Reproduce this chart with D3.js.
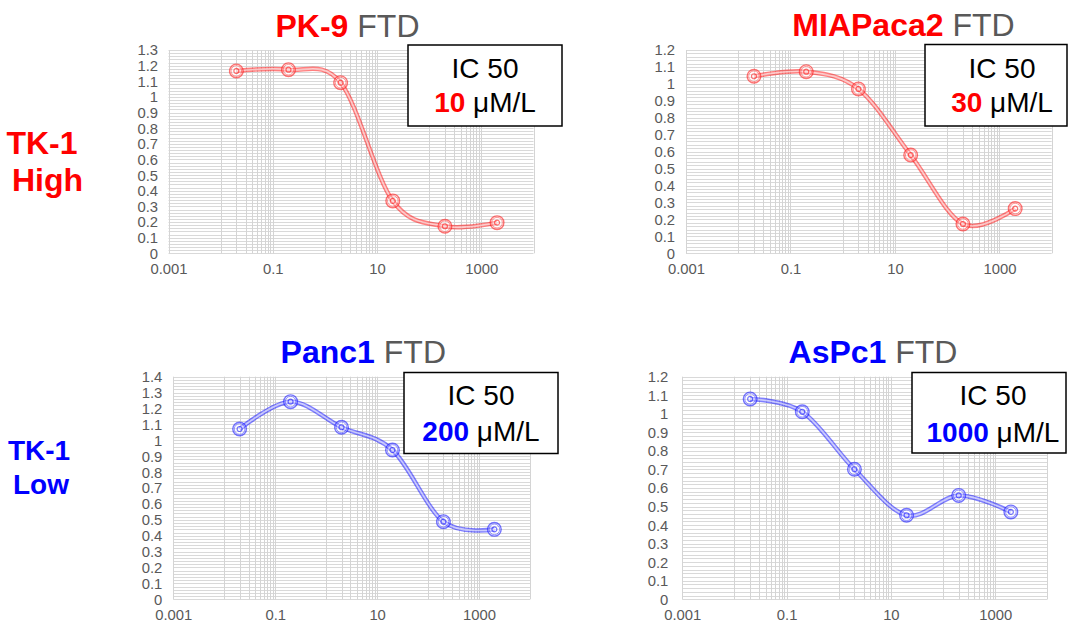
<!DOCTYPE html>
<html>
<head>
<meta charset="utf-8">
<script src="https://cdn.jsdelivr.net/npm/d3@7"></script>
<style>
  html, body { margin: 0; padding: 0; background: #fff; }
  svg { display: block; font-family: "Liberation Sans", Arial, sans-serif; }
</style>
</head>
<body>
<script>
// ---------------- DATA ----------------
const concentrations = [0.02, 0.2, 2, 20, 200, 2000];           // µM/L
const pk9Values      = [1.166, 1.174, 1.091, 0.335, 0.173, 0.196];
const miapaca2Values = [1.045, 1.072, 0.970, 0.580, 0.173, 0.264];
const panc1Values    = [1.071, 1.243, 1.082, 0.939, 0.488, 0.440];
const aspc1Values    = [1.080, 1.011, 0.701, 0.453, 0.560, 0.471];

const cellLines  = ["PK-9", "MIAPaca2", "Panc1", "AsPc1"];
const ic50Values = ["10", "30", "200", "1000"];
const yMaxValues = [1.3, 1.2, 1.4, 1.2];
const xTickValues = [0.001, 0.1, 10, 1000];
const xTickLabels = ["0.001", "0.1", "10", "1000"];
const rowLabelHigh = ["TK-1", "High"];
const rowLabelLow  = ["TK-1", "Low"];

// ---------------- LAYOUT ----------------
const W = 1068, H = 622;
const RED = "#ff0000", BLUE = "#0000ff", GRAY = "#595959";

const panels = [
  { name: cellLines[0], values: pk9Values, ic50: ic50Values[0], ymax: yMaxValues[0], color: RED,
    series: "255,0,0", L: 168.5, R: 533.5, T: 50, B: 253.3, gap: 10.5,
    titleX: 347.5, titleY: 36.5,
    box: { x: 408, y: 45, w: 154, h: 81, cx: 485, b1: 78, b2: 111.5 } },
  { name: cellLines[1], values: miapaca2Values, ic50: ic50Values[1], ymax: yMaxValues[1], color: RED,
    series: "255,0,0", L: 686, R: 1051.7, T: 50, B: 253.3, gap: 11,
    titleX: 903.5, titleY: 36,
    box: { x: 925, y: 44.5, w: 142, h: 81.5, cx: 1002, b1: 78, b2: 112 } },
  { name: cellLines[2], values: panc1Values, ic50: ic50Values[2], ymax: yMaxValues[2], color: BLUE,
    series: "0,0,255", L: 173.3, R: 530, T: 376.7, B: 599.3, gap: 11,
    titleX: 363.3, titleY: 362.5,
    box: { x: 404, y: 372.5, w: 154, h: 81, cx: 481, b1: 405, b2: 441 } },
  { name: cellLines[3], values: aspc1Values, ic50: ic50Values[3], ymax: yMaxValues[3], color: BLUE,
    series: "0,0,255", L: 682.3, R: 1047.3, T: 376.7, B: 599.3, gap: 14,
    titleX: 873, titleY: 363,
    box: { x: 912, y: 372.5, w: 154, h: 80.5, cx: 993, b1: 405, b2: 441.5 } }
];

const svg = d3.select("body").append("svg")
  .attr("width", W).attr("height", H).attr("viewBox", `0 0 ${W} ${H}`);

const SX = 1.06;      // slight horizontal stretch of tick labels
const TICK_FS = "14px";

panels.forEach(p => {
  const g = svg.append("g");
  const x = d3.scaleLog().domain([0.001, 10000]).range([p.L, p.R]);
  const y = d3.scaleLinear().domain([0, p.ymax]).range([p.B, p.T]);

  // horizontal gridlines every 0.02
  const nH = Math.round(p.ymax / 0.02);
  const hVals = d3.range(0, nH + 1).map(i => i * 0.02);
  g.append("g").selectAll("line").data(hVals).join("line")
    .attr("x1", p.L).attr("x2", p.R)
    .attr("y1", d => Math.round(y(d)) + 0.5).attr("y2", d => Math.round(y(d)) + 0.5)
    .attr("stroke", "#d9d9d9").attr("stroke-width", 1);

  // vertical gridlines: majors + minors (10k * major)
  const vVals = [];
  xTickValues.forEach(m => {
    vVals.push(m);
    for (let k = 1; k <= 9; k++) {
      const v = m * 10 * k;
      if (v <= 10000 * 1.0001) vVals.push(v);
    }
  });
  g.append("g").selectAll("line").data(vVals).join("line")
    .attr("x1", d => Math.round(x(d)) + 0.5).attr("x2", d => Math.round(x(d)) + 0.5)
    .attr("y1", p.T).attr("y2", p.B)
    .attr("stroke", "#d4d4d4").attr("stroke-width", 1);

  // Y axis
  const nY = Math.round(p.ymax * 10);
  const yTicks = d3.range(0, nY + 1).map(i => +(i / 10).toFixed(1));
  const yAxis = g.append("g").attr("transform", `translate(${p.L},0)`)
    .call(d3.axisLeft(y).tickValues(yTicks).tickFormat(d => String(d)).tickSize(0));
  yAxis.select(".domain").remove();
  yAxis.selectAll("text")
    .attr("x", -p.gap / SX).attr("dy", "0.35em")
    .attr("transform", `scale(${SX},1)`)
    .attr("fill", GRAY).style("font-size", TICK_FS)
    .style("font-family", '"Liberation Sans", Arial, sans-serif');

  // X axis
  const xAxis = g.append("g").attr("transform", `translate(0,${p.B})`)
    .call(d3.axisBottom(x).tickValues(xTickValues).tickFormat((d, i) => xTickLabels[i]).tickSize(0));
  xAxis.select(".domain").remove();
  xAxis.selectAll("text")
    .attr("y", 15.5).attr("dy", "0.35em")
    .attr("transform", `scale(${SX},1)`)
    .attr("fill", GRAY).style("font-size", TICK_FS)
    .style("font-family", '"Liberation Sans", Arial, sans-serif');

  // series line (double-line look)
  const pts = concentrations.map((c, i) => ({ c, v: p.values[i] }));
  const line = d3.line().x(d => x(d.c)).y(d => y(d.v)).curve(d3.curveCatmullRom.alpha(0));
  g.append("path").datum(pts).attr("d", line)
    .attr("fill", "none").attr("stroke", `rgba(${p.series},0.5)`).attr("stroke-width", 4.5);
  g.append("path").datum(pts).attr("d", line)
    .attr("fill", "none").attr("stroke", "rgba(255,255,255,0.6)").attr("stroke-width", 1.7);

  // markers
  const mk = g.append("g").selectAll("g").data(pts).join("g")
    .attr("transform", d => `translate(${x(d.c)},${y(d.v)})`);
  mk.append("circle").attr("r", 6.8).attr("fill", "rgba(255,255,255,0.35)")
    .attr("stroke", `rgba(${p.series},0.55)`).attr("stroke-width", 1.4);
  mk.append("circle").attr("r", 5.3).attr("fill", "none")
    .attr("stroke", `rgba(${p.series},0.4)`).attr("stroke-width", 1);
  mk.append("circle").attr("r", 2.5).attr("fill", "none")
    .attr("stroke", `rgba(${p.series},0.55)`).attr("stroke-width", 1.2);

  // title
  const title = svg.append("text")
    .attr("x", p.titleX).attr("y", p.titleY).attr("text-anchor", "middle")
    .style("font-size", "32px");
  title.append("tspan").text(p.name).attr("fill", p.color).attr("font-weight", "bold");
  title.append("tspan").text(" FTD").attr("fill", GRAY);

  // IC50 box
  const b = p.box;
  svg.append("rect").attr("x", b.x).attr("y", b.y).attr("width", b.w).attr("height", b.h)
    .attr("fill", "#fff").attr("stroke", "#000").attr("stroke-width", 1.5);
  svg.append("text").attr("x", b.cx).attr("y", b.b1).attr("text-anchor", "middle")
    .style("font-size", "28px").attr("fill", "#000").text("IC 50");
  const t2 = svg.append("text").attr("x", b.cx).attr("y", b.b2).attr("text-anchor", "middle")
    .style("font-size", "28px");
  t2.append("tspan").text(p.ic50).attr("fill", p.color).attr("font-weight", "bold");
  t2.append("tspan").text(" μM/L").attr("fill", "#000");
});

// row labels
const rows = [
  { lines: rowLabelHigh, color: RED, size: 32, pos: [[42, 154], [47.5, 191]] },
  { lines: rowLabelLow,  color: BLUE, size: 28, pos: [[39, 460], [41, 494]] }
];
rows.forEach(r => {
  r.lines.forEach((s, i) => {
    svg.append("text").attr("x", r.pos[i][0]).attr("y", r.pos[i][1])
      .attr("text-anchor", "middle").attr("font-weight", "bold")
      .attr("fill", r.color).style("font-size", r.size + "px").text(s);
  });
});
</script>
</body>
</html>
